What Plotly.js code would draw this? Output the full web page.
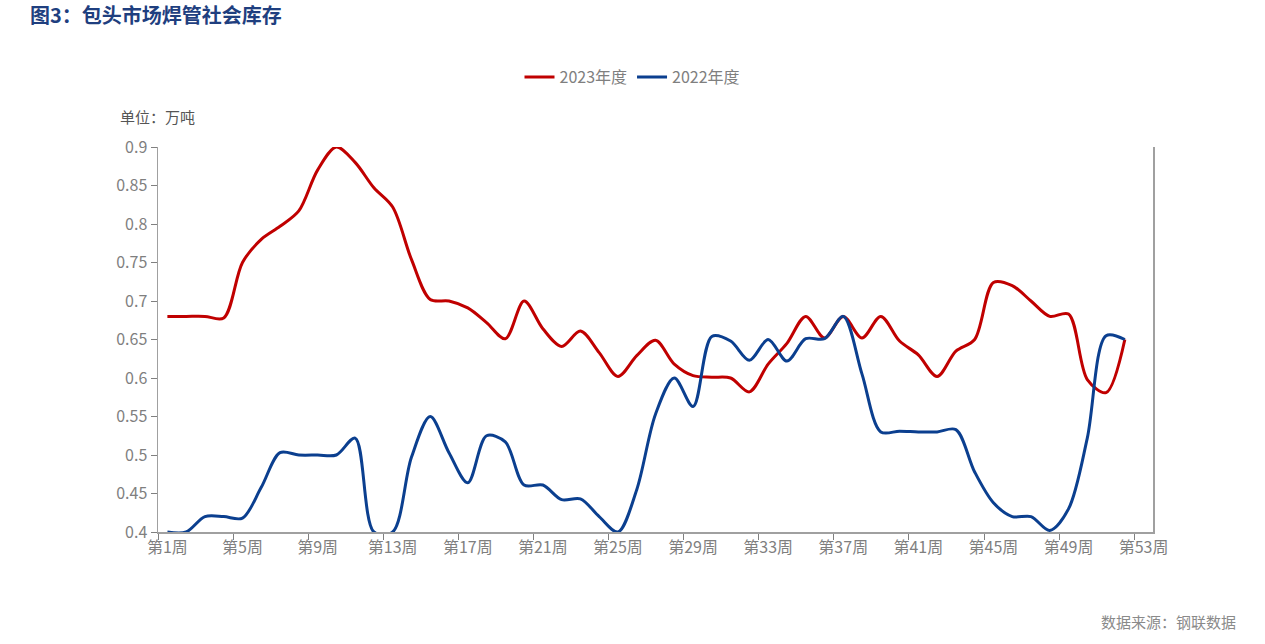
<!DOCTYPE html>
<html>
<head>
<meta charset="utf-8">
<script src="https://cdn.plot.ly/plotly-3.0.1.min.js"></script>
<style>
  html, body { margin: 0; padding: 0; background: #fff; }
  #chart { width: 1265px; height: 644px; }
</style>
</head>
<body>
<div id="chart"></div>
<script>
// week labels 第1周 .. 第53周 (data runs to week 52)
const weeks = Array.from({ length: 53 }, (_, i) => `第${i + 1}周`);

const stock2023 = [
  0.68, 0.68, 0.68, 0.678, 0.75, 0.78, 0.797, 0.817, 0.87, 0.9,
  0.88, 0.847, 0.822, 0.754, 0.702, 0.70, 0.691, 0.672, 0.651, 0.70,
  0.664, 0.641, 0.661, 0.633, 0.602, 0.629, 0.649, 0.618, 0.603, 0.601,
  0.60, 0.582, 0.618, 0.645, 0.68, 0.652, 0.68, 0.652, 0.68, 0.648,
  0.63, 0.602, 0.635, 0.65, 0.724, 0.72, 0.70, 0.68, 0.683, 0.598,
  0.581, 0.65
];

const stock2022 = [
  0.40, 0.40, 0.42, 0.42, 0.418, 0.458, 0.503, 0.50, 0.50, 0.50,
  0.522, 0.40, 0.40, 0.497, 0.55, 0.503, 0.464, 0.525, 0.517, 0.461,
  0.461, 0.442, 0.443, 0.42, 0.40, 0.455, 0.553, 0.60, 0.563, 0.654,
  0.648, 0.623, 0.65, 0.622, 0.651, 0.651, 0.68, 0.605, 0.53, 0.531,
  0.53, 0.53, 0.533, 0.478, 0.438, 0.42, 0.42, 0.402, 0.43, 0.522,
  0.655, 0.65
];

const seriesNames = ['2023年度', '2022年度'];
const seriesColors = ['#c00000', '#0b3f8f'];

const font = '"Noto Sans CJK SC", "Noto Sans", sans-serif';
const grey = '#7f7f7f';

const traces = [stock2023, stock2022].map((vals, i) => ({
  x: weeks.slice(0, vals.length),
  y: vals,
  type: 'scatter',
  mode: 'lines',
  name: seriesNames[i],
  line: { color: seriesColors[i], width: 3, shape: 'spline', smoothing: 0.9 },
  hoverinfo: 'x+y',
}));

const layout = {
  width: 1265,
  height: 644,
  paper_bgcolor: '#fff',
  plot_bgcolor: '#fff',
  margin: { l: 158, r: 112, t: 147, b: 112 },
  font: { family: font, color: grey, size: 14 },
  title: {
    text: '图3：包头市场焊管社会库存',
    font: { family: font, size: 20, color: '#1f3f7f', weight: 'bold' },
    xref: 'container', yref: 'container',
    x: 30 / 1265, xanchor: 'left',
    y: 1 - 16 / 644, yanchor: 'middle',
  },
  showlegend: true,
  legend: {
    orientation: 'h',
    xref: 'container', yref: 'container',
    x: 0.5, xanchor: 'center',
    y: 1 - 77 / 644, yanchor: 'middle',
    font: { family: font, size: 16, color: grey },
    traceorder: 'normal',
  },
  xaxis: {
    type: 'category',
    categoryorder: 'array',
    categoryarray: weeks,
    range: [-0.5, weeks.length - 0.5],
    tick0: 0,
    dtick: 4,
    tickson: 'boundaries',
    tickangle: 0,
    ticks: 'outside',
    ticklen: 6,
    tickcolor: '#808080',
    showline: true,
    linecolor: '#a0a0a0',
    linewidth: 1.5,
    showgrid: false,
    zeroline: false,
    tickfont: { family: font, size: 16, color: grey },
    fixedrange: true,
  },
  yaxis: {
    range: [0.4, 0.9],
    tick0: 0.4,
    dtick: 0.05,
    ticks: 'outside',
    ticklen: 6,
    tickcolor: '#808080',
    showline: true,
    mirror: true,
    linecolor: '#a0a0a0',
    linewidth: 1.5,
    showgrid: false,
    zeroline: false,
    tickfont: { family: font, size: 16, color: grey },
    fixedrange: true,
  },
  annotations: [
    {
      text: '单位：万吨',
      xref: 'paper', yref: 'paper',
      x: -40 / 995, y: 1 + 31 / 385,
      xanchor: 'left', yanchor: 'middle',
      showarrow: false,
      font: { family: font, size: 15, color: '#555' },
    },
    {
      text: '数据来源：钢联数据',
      xref: 'paper', yref: 'paper',
      x: (1238 - 158) / 995, y: (532 - 621) / 385,
      xanchor: 'right', yanchor: 'middle',
      showarrow: false,
      font: { family: font, size: 15, color: '#8a8a8a' },
    },
  ],
};

Plotly.newPlot('chart', traces, layout, { displayModeBar: false, staticPlot: true });
</script>
</body>
</html>
